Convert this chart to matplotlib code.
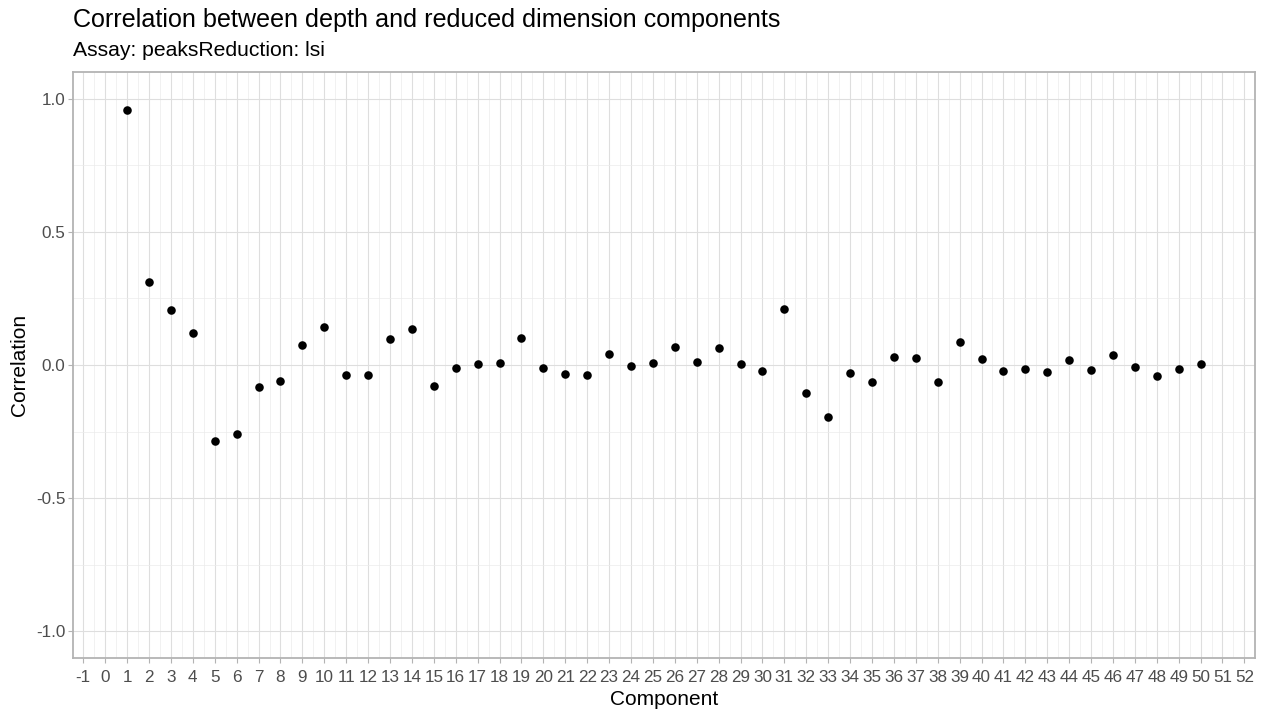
import numpy as np
import matplotlib
matplotlib.use("Agg")
import matplotlib.pyplot as plt

plt.rcParams['font.family'] = ['Liberation Sans', 'DejaVu Sans']

# correlation of each reduced dimension component with depth
component = list(range(1, 51))
correlation = [0.959, 0.312, 0.206, 0.119, -0.285, -0.260, -0.084, -0.059, 0.076, 0.144,
               -0.037, -0.037, 0.097, 0.136, -0.079, -0.013, 0.002, 0.006, 0.102, -0.011,
               -0.032, -0.037, 0.041, -0.002, 0.009, 0.069, 0.013, 0.062, 0.002, -0.022,
               0.210, -0.107, -0.195, -0.030, -0.062, 0.030, 0.027, -0.062, 0.087, 0.024,
               -0.022, -0.015, -0.026, 0.020, -0.019, 0.037, -0.009, -0.040, -0.015, 0.002]
x_ticks = list(range(-1, 53))
y_ticks = [-1.0, -0.5, 0.0, 0.5, 1.0]

fig = plt.figure(figsize=(12.61, 7.17), dpi=100)
ax = fig.add_axes([0.0579, 0.0823, 0.9371, 0.8173])

ax.scatter(component, correlation, s=38, color="black", zorder=3, linewidths=0)

ax.set_xlim(-1.47, 52.47)
ax.set_ylim(-1.1, 1.1)
ax.set_xticks(x_ticks)
ax.set_xticklabels([str(t) for t in x_ticks])
ax.set_yticks(y_ticks)
ax.set_yticklabels(["%.1f" % t for t in y_ticks])
# minor grid halfway between the major ticks
ax.set_xticks([t + 0.5 for t in x_ticks[:-1]], minor=True)
ax.set_yticks([-0.75, -0.25, 0.25, 0.75], minor=True)

ax.grid(which="major", color="#DEDEDE", linewidth=0.8)
ax.grid(which="minor", color="#EBEBEB", linewidth=0.5)
ax.set_axisbelow(True)

for s in ax.spines.values():
    s.set_color("#B3B3B3")
    s.set_linewidth(1.3)

ax.tick_params(which="major", length=3.5, color="#B3B3B3", labelcolor="#4D4D4D",
               labelsize=12.3, pad=2)
ax.tick_params(axis="x", which="major", pad=5)
ax.tick_params(which="minor", length=0)

ax.set_xlabel("Component", fontsize=15, labelpad=4)
ax.set_ylabel("Correlation", fontsize=15, labelpad=5)

fig.text(0.0579, 0.972, "Correlation between depth and reduced dimension components",
         fontsize=18.1, va="center", ha="left")
fig.text(0.0579, 0.929, "Assay: peaksReduction: lsi", fontsize=15.2, va="center", ha="left")

fig.savefig("out.png", dpi=100)
